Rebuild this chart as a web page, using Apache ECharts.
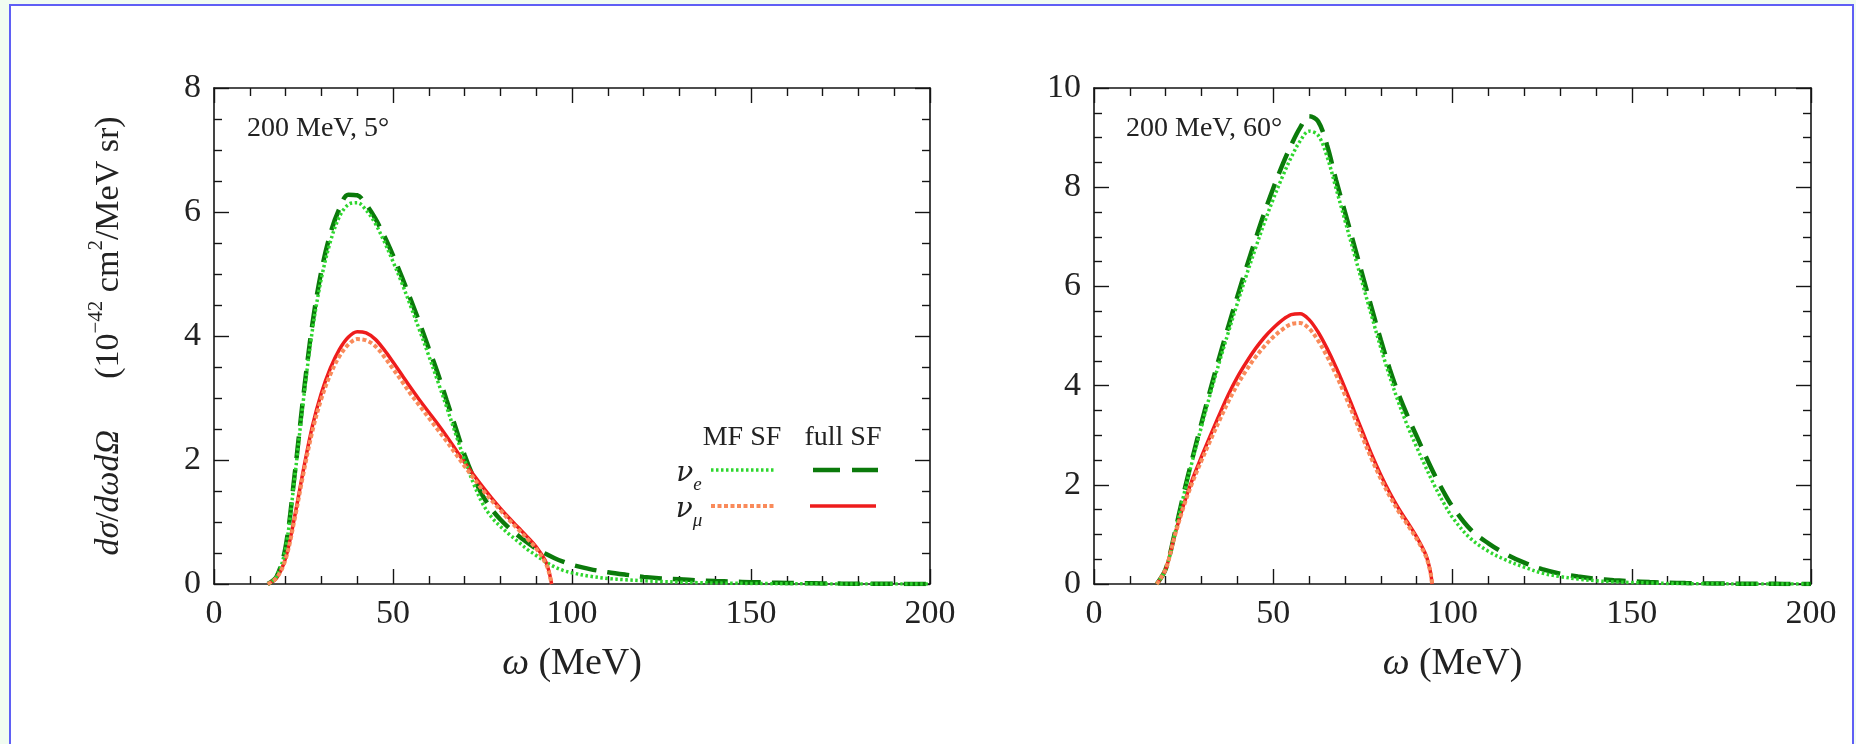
<!DOCTYPE html>
<html>
<head>
<meta charset="utf-8">
<script src="https://cdn.jsdelivr.net/npm/echarts@6/dist/echarts.min.js"></script>
<style>
  html, body { margin: 0; padding: 0; background: #f1fcf1; }
  #frame { position: absolute; left: 9px; top: 4px; width: 1841px; height: 800px; border: 2px solid #5f5ff5; background: #fff; }
  #chart { position: absolute; left: 0; top: 0; width: 1856px; height: 744px; }
</style>
</head>
<body>
<div id="frame"></div>
<div id="chart"></div>
<script>
// 200 MeV, 5 degrees
var omegaL = [15, 17.5, 20, 22.5, 25, 27.5, 30, 32.5, 35, 37.5, 40, 42.5, 45, 47.5, 50, 52.5, 55, 57.5, 60, 62.5,
    65, 67.5, 70, 72.5, 75, 77.5, 80, 82.5, 85, 87.5, 90, 92.5, 95, 97.5, 100,
    105, 110, 115, 120, 125, 130, 135, 140, 145, 150, 155, 160, 165, 170, 175, 180, 185, 190, 195, 200];
var nueFullL = [0, 0.12, 0.6, 1.75, 3.05, 4.2, 5.05, 5.65, 6.05, 6.28, 6.27, 6.12, 5.9, 5.62, 5.3, 4.95, 4.58, 4.2, 3.8, 3.4,
    2.96, 2.52, 2.08, 1.72, 1.43, 1.21, 1.04, 0.9, 0.78, 0.67, 0.57, 0.49, 0.42, 0.36, 0.31,
    0.24, 0.19, 0.15, 0.115, 0.09, 0.075, 0.06, 0.048, 0.038, 0.03, 0.023, 0.018, 0.013, 0.01, 0.007, 0.005, 0.003, 0.002, 0.001, 0.001];
var nueMfL = [0, 0.12, 0.58, 1.7, 2.98, 4.1, 4.93, 5.52, 5.92, 6.12, 6.15, 6.03, 5.82, 5.53, 5.2, 4.85, 4.47, 4.08, 3.68, 3.27,
    2.85, 2.42, 2.0, 1.62, 1.3, 1.08, 0.93, 0.8, 0.68, 0.56, 0.46, 0.36, 0.28, 0.22, 0.18,
    0.125, 0.09, 0.068, 0.052, 0.04, 0.03, 0.022, 0.016, 0.012, 0.009, 0.006, 0.004, 0.003, 0.002, 0.001, 0, 0, 0, 0, 0];
var omegaMuL = [15, 17.5, 20, 22.5, 25, 27.5, 30, 32.5, 35, 37.5, 40, 42.5, 45, 47.5, 50, 52.5, 55, 57.5, 60, 62.5,
    65, 67.5, 70, 72.5, 75, 77.5, 80, 82.5, 85, 87.5, 90, 92.5, 93.5, 94.3];
var numuFullL = [0, 0.1, 0.42, 1.08, 1.85, 2.55, 3.08, 3.48, 3.78, 3.98, 4.07, 4.05, 3.95, 3.78, 3.58, 3.37, 3.16, 2.96, 2.77, 2.58,
    2.38, 2.17, 1.96, 1.76, 1.57, 1.39, 1.22, 1.06, 0.91, 0.76, 0.6, 0.38, 0.22, 0];
var numuMfL = [0, 0.1, 0.4, 1.04, 1.79, 2.47, 2.99, 3.38, 3.67, 3.86, 3.95, 3.93, 3.84, 3.67, 3.47, 3.27, 3.06, 2.87, 2.68, 2.49,
    2.3, 2.1, 1.9, 1.71, 1.52, 1.35, 1.19, 1.03, 0.88, 0.73, 0.57, 0.35, 0.2, 0];

// 200 MeV, 60 degrees
var omegaR = [17.5, 20, 22.5, 25, 27.5, 30, 32.5, 35, 37.5, 40, 42.5, 45, 47.5, 50, 52.5, 55, 57.5, 60, 62.5, 65,
    67.5, 70, 72.5, 75, 77.5, 80, 82.5, 85, 87.5, 90, 92.5, 95, 97.5, 100,
    105, 110, 115, 120, 125, 130, 135, 140, 145, 150, 155, 160, 165, 170, 175, 180, 185, 190, 195, 200];
var nueFullR = [0, 0.3, 1.02, 1.82, 2.55, 3.25, 3.93, 4.58, 5.2, 5.8, 6.38, 6.94, 7.48, 7.98, 8.44, 8.85, 9.2, 9.43, 9.33, 8.85,
    8.15, 7.5, 6.85, 6.2, 5.55, 4.92, 4.33, 3.82, 3.38, 2.98, 2.58, 2.2, 1.86, 1.56,
    1.1, 0.82, 0.6, 0.43, 0.3, 0.21, 0.15, 0.105, 0.075, 0.054, 0.038, 0.027, 0.019, 0.013, 0.009, 0.006, 0.004, 0.003, 0.002, 0.001];
var nueMfR = [0, 0.3, 1.0, 1.78, 2.5, 3.18, 3.85, 4.48, 5.08, 5.66, 6.22, 6.76, 7.28, 7.76, 8.2, 8.6, 8.93, 9.13, 9.05, 8.62,
    7.98, 7.33, 6.68, 6.03, 5.39, 4.76, 4.18, 3.65, 3.18, 2.76, 2.36, 1.98, 1.64, 1.34,
    0.92, 0.66, 0.48, 0.34, 0.22, 0.15, 0.1, 0.065, 0.042, 0.03, 0.02, 0.012, 0.008, 0.005, 0.003, 0.002, 0.001, 0, 0, 0];
var omegaMuR = [17.5, 20, 22.5, 25, 27.5, 30, 32.5, 35, 37.5, 40, 42.5, 45, 47.5, 50, 52.5, 55, 57.5, 60, 62.5, 65,
    67.5, 70, 72.5, 75, 77.5, 80, 82.5, 85, 87.5, 90, 92.5, 93.5, 94, 94.3];
var numuFullR = [0, 0.3, 0.98, 1.6, 2.12, 2.57, 3.0, 3.42, 3.82, 4.17, 4.47, 4.74, 4.97, 5.16, 5.32, 5.43, 5.45, 5.33, 5.08, 4.75,
    4.37, 3.95, 3.5, 3.05, 2.6, 2.2, 1.84, 1.52, 1.24, 0.95, 0.6, 0.36, 0.18, 0];
var numuMfR = [0, 0.3, 0.96, 1.56, 2.06, 2.49, 2.9, 3.3, 3.68, 4.02, 4.31, 4.57, 4.79, 4.98, 5.13, 5.24, 5.26, 5.15, 4.91, 4.59,
    4.22, 3.81, 3.38, 2.94, 2.51, 2.12, 1.77, 1.46, 1.19, 0.91, 0.57, 0.34, 0.17, 0];

var xTicks = [0, 200, 50];      // min, max, step
var yTicksL = [0, 8, 2];
var yTicksR = [0, 10, 2];

var FONT = '"Liberation Serif", "DejaVu Serif", serif';
var INK = '#151515';
var C_MF_E = '#2ed62e', C_FULL_E = '#0b7a0b', C_MF_MU = '#f98a5a', C_FULL_MU = '#ee1c1c';

var chart = echarts.init(document.getElementById('chart'));

function pairs(xs, ys) {
    return xs.map(function (x, i) { return [x, ys[i]]; });
}

function xAxis(grid, pos, labels) {
    return {
        type: 'value', gridIndex: grid, position: pos,
        min: xTicks[0], max: xTicks[1], interval: xTicks[2],
        axisLine: {show: true, onZero: false, lineStyle: {color: INK, width: 1.6}},
        axisTick: {show: true, inside: true, length: 15, lineStyle: {color: INK, width: 1.4}},
        minorTick: {show: true, splitNumber: 5, length: 8, lineStyle: {color: INK, width: 1.4}},
        axisLabel: {show: labels, margin: 13, fontFamily: FONT, fontSize: 34, color: '#222'},
        splitLine: {show: false},
        name: labels ? '{i|ω} (MeV)' : '',
        nameLocation: 'middle', nameGap: 61,
        nameTextStyle: {fontFamily: FONT, fontSize: 38, color: '#222',
            rich: {i: {fontFamily: FONT, fontSize: 38, fontStyle: 'italic', color: '#222'}}}
    };
}

function yAxis(grid, pos, ticks, labels) {
    return {
        type: 'value', gridIndex: grid, position: pos,
        min: ticks[0], max: ticks[1], interval: ticks[2],
        axisLine: {show: true, onZero: false, lineStyle: {color: INK, width: 1.6}},
        axisTick: {show: true, inside: true, length: 15, lineStyle: {color: INK, width: 1.4}},
        minorTick: {show: true, splitNumber: 4, length: 8, lineStyle: {color: INK, width: 1.4}},
        axisLabel: {show: labels, margin: 13, fontFamily: FONT, fontSize: 34, color: '#222'},
        splitLine: {show: false}
    };
}

function line(name, xi, yi, data, color, type, width) {
    return {
        name: name, type: 'line', xAxisIndex: xi, yAxisIndex: yi,
        data: data, showSymbol: false, smooth: 0.35,
        lineStyle: {color: color, width: width, type: type, cap: 'butt'},
        emphasis: {disabled: true}
    };
}

var yTitle = '{i|dσ}{r|/}{i|dωdΩ}{r|      (10}{s|−42}{r| cm}{s|2}{r|/MeV sr)}';
var leftY = yAxis(0, 'left', yTicksL, true);
leftY.name = yTitle;
leftY.nameLocation = 'middle';
leftY.nameRotate = 90;
leftY.nameGap = 82;
leftY.nameTextStyle = {
    fontFamily: FONT, fontSize: 34, color: '#222',
    rich: {
        i: {fontFamily: FONT, fontSize: 34, fontStyle: 'italic', color: '#222', lineHeight: 46},
        r: {fontFamily: FONT, fontSize: 34, color: '#222', lineHeight: 46},
        s: {fontFamily: FONT, fontSize: 21, color: '#222', lineHeight: 23, verticalAlign: 'top'}
    }
};

var legendText = {fontFamily: FONT, fontSize: 28, fill: '#222'};
var nuRich = {
    n: {fontFamily: '"DejaVu Serif", serif', fontSize: 28, fontStyle: 'italic', lineHeight: 40},
    b: {fontFamily: FONT, fontSize: 19, fontStyle: 'italic', lineHeight: 20, verticalAlign: 'bottom'}
};

function sample(x1, x2, y, color, dash, width) {
    return {type: 'line', shape: {x1: x1, y1: y, x2: x2, y2: y},
        style: {stroke: color, lineWidth: width, lineDash: dash}, z: 10};
}

chart.setOption({
    animation: false,
    backgroundColor: 'transparent',
    grid: [
        {left: 214, right: 926, top: 88, bottom: 160},
        {left: 1094, right: 45, top: 88, bottom: 160}
    ],
    xAxis: [xAxis(0, 'bottom', true), xAxis(0, 'top', false), xAxis(1, 'bottom', true), xAxis(1, 'top', false)],
    yAxis: [leftY, yAxis(0, 'right', yTicksL, false), yAxis(1, 'left', yTicksR, true), yAxis(1, 'right', yTicksR, false)],
    series: [
        line('full SF nu_e', 0, 0, pairs(omegaL, nueFullL), C_FULL_E, [22, 11], 4.5),
        line('full SF nu_mu', 0, 0, pairs(omegaMuL, numuFullL), C_FULL_MU, 'solid', 3.5),
        line('MF SF nu_e', 0, 0, pairs(omegaL, nueMfL), C_MF_E, [2.5, 2.5], 3.5),
        line('MF SF nu_mu', 0, 0, pairs(omegaMuL, numuMfL), C_MF_MU, [4, 2.5], 4),
        line('full SF nu_e', 2, 2, pairs(omegaR, nueFullR), C_FULL_E, [22, 11], 4.5),
        line('full SF nu_mu', 2, 2, pairs(omegaMuR, numuFullR), C_FULL_MU, 'solid', 3.5),
        line('MF SF nu_e', 2, 2, pairs(omegaR, nueMfR), C_MF_E, [2.5, 2.5], 3.5),
        line('MF SF nu_mu', 2, 2, pairs(omegaMuR, numuMfR), C_MF_MU, [4, 2.5], 4)
    ],
    graphic: [
        {type: 'text', left: 247, top: 115, style: {text: '200 MeV, 5°', fontFamily: FONT, fontSize: 28, fill: '#222'}},
        {type: 'text', left: 1126, top: 115, style: {text: '200 MeV, 60°', fontFamily: FONT, fontSize: 28, fill: '#222'}},
        {type: 'text', x: 742, y: 438, style: Object.assign({text: 'MF SF', align: 'center', verticalAlign: 'middle'}, legendText)},
        {type: 'text', x: 843, y: 438, style: Object.assign({text: 'full SF', align: 'center', verticalAlign: 'middle'}, legendText)},
        {type: 'text', x: 689, y: 474, style: {text: '{n|ν}{b|e}', rich: nuRich, fill: '#222', align: 'center', verticalAlign: 'middle'}},
        {type: 'text', x: 689, y: 510, style: {text: '{n|ν}{b|μ}', rich: nuRich, fill: '#222', align: 'center', verticalAlign: 'middle'}},
        sample(711, 776, 470, C_MF_E, [2.5, 2.5], 3.5),
        sample(813, 878, 470, C_FULL_E, [27, 12], 4.5),
        sample(711, 776, 506, C_MF_MU, [4, 2.5], 4),
        sample(810, 876, 506, C_FULL_MU, null, 3.5)
    ]
});
</script>
</body>
</html>
